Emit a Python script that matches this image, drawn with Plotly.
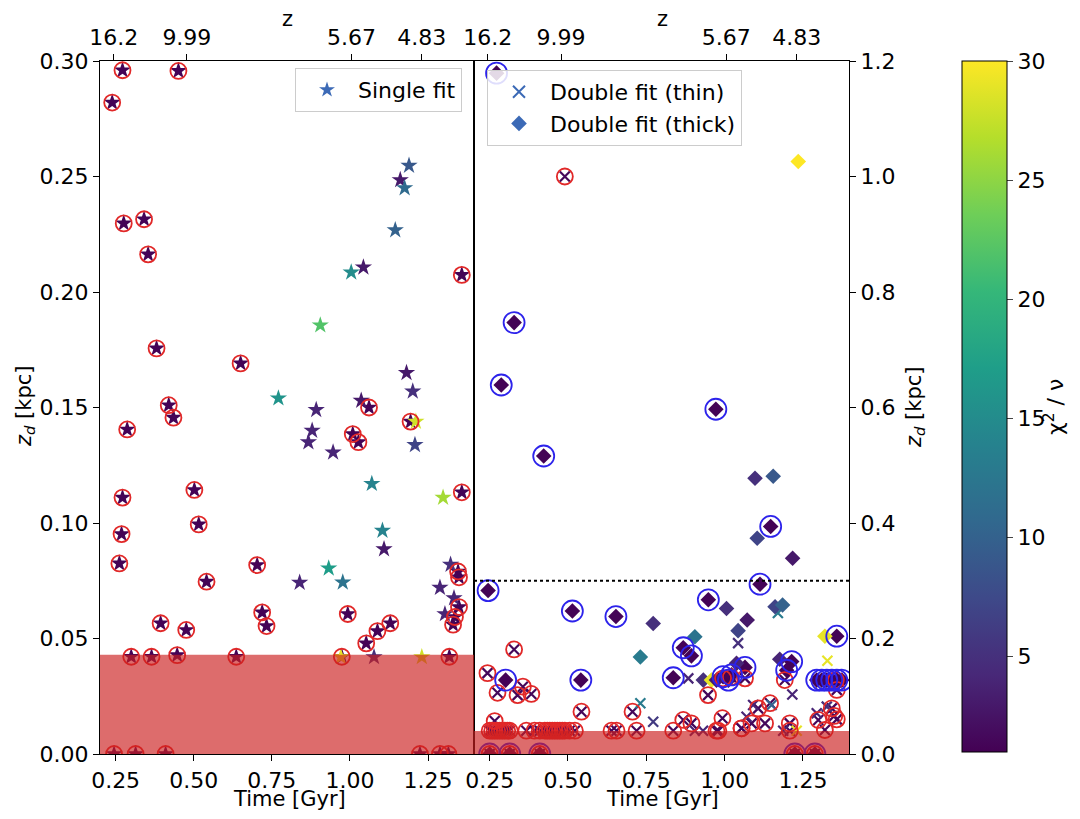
import plotly.graph_objects as go
from plotly.colors import sample_colorscale

# ---------------- data ----------------
# Single fit (left panel): time [Gyr], z_d [kpc], chi2/nu, circled flag
single_t = [0.239, 0.272, 0.451, 0.276, 0.341, 0.354, 0.381, 0.650, 0.420, 0.435,
            0.287, 1.061, 1.009, 1.027, 1.194, 1.358, 0.272, 0.502, 0.516, 0.269,
            0.262, 0.703, 0.541, 1.358, 0.394, 0.476, 0.719, 0.733, 0.993, 1.052,
            1.088, 1.129, 0.300, 0.365, 0.447, 0.636, 0.974, 1.318, 1.346, 1.349,
            1.349, 1.336, 1.330, 0.245, 0.314, 0.410, 1.224, 1.288, 1.315,
            1.189, 1.161, 1.175, 1.145, 1.004, 1.043, 0.905, 0.771, 1.181, 1.201,
            0.892, 1.036, 0.879, 0.867, 0.946, 1.211, 1.208, 1.070, 1.298, 1.104,
            1.109, 0.932, 0.839, 0.977, 1.322, 1.288, 1.333, 1.304, 1.077, 1.230, 0.971]
single_zd = [0.282, 0.296, 0.2957, 0.2297, 0.2315, 0.2163, 0.1756, 0.1691, 0.151, 0.1456,
             0.1405, 0.150, 0.1385, 0.135, 0.1439, 0.2074, 0.111, 0.1143, 0.0994, 0.0952,
             0.0825, 0.0818, 0.0746, 0.1133, 0.0566, 0.0537, 0.0613, 0.0554, 0.0606, 0.0479,
             0.0532, 0.0566, 0.0421, 0.0421, 0.0428, 0.0421, 0.0421, 0.0421, 0.079, 0.0765,
             0.0636, 0.0593, 0.056, 0.0, 0.0, 0.0, 0.0, 0.0, 0.0,
             0.2547, 0.2485, 0.245, 0.2268, 0.2085, 0.2107, 0.1856, 0.154, 0.165, 0.157,
             0.149, 0.153, 0.140, 0.135, 0.1306, 0.1439, 0.1338, 0.117, 0.111, 0.0967,
             0.0887, 0.0804, 0.0742, 0.0743, 0.082, 0.072, 0.0675, 0.0606, 0.042, 0.042, 0.042]
single_chi = [1.2] * 49 + [9, 3, 11, 10, 15, 3, 22, 16, 3, 5,
                           4, 3, 4, 4, 4, 28, 7, 14, 26, 14,
                           3, 17, 4, 12, 5, 4, 4, 4, 5, 28, 29]
single_flag = [1] * 49 + [0] * 31

# Double fit, thin component (right panel)
thin_t = [0.49, 0.328, 0.243, 0.275, 0.356, 0.339, 0.383, 0.543, 0.706, 0.266,
          0.25, 0.258, 0.266, 0.274, 0.282, 0.29, 0.298, 0.306, 0.314, 0.367,
          0.393, 0.41, 0.426, 0.434, 0.442, 0.45, 0.458, 0.466, 0.474, 0.482,
          0.49, 0.505, 0.522, 0.639, 0.655, 0.719, 0.836, 0.974, 0.98, 1.054,
          1.208, 1.32, 0.947, 1.107, 1.145, 0.868, 0.894, 0.993, 1.054, 1.086,
          1.129, 1.208, 1.342, 1.299, 1.35, 1.358, 1.065, 1.192, 1.358, 0.995,
          1.02, 1.355, 0.25, 0.314, 0.41, 1.224, 1.288,
          1.043, 0.884, 0.731, 0.772, 1.216, 1.328, 1.17, 1.091, 1.07, 1.294,
          1.326, 0.905, 0.931, 1.187, 1.23, 1.15, 1.36]
thin_zd = [1.0, 0.181, 0.140, 0.106, 0.1166, 0.102, 0.104, 0.0733, 0.0733, 0.057,
           0.0404, 0.0404, 0.0404, 0.0404, 0.0404, 0.0404, 0.0404, 0.0404, 0.0404, 0.0404,
           0.0404, 0.0404, 0.0404, 0.0404, 0.0404, 0.0404, 0.0404, 0.0404, 0.0404, 0.0404,
           0.0404, 0.0404, 0.0404, 0.0404, 0.0404, 0.0404, 0.0404, 0.0404, 0.0404, 0.0445,
           0.0404, 0.0416, 0.102, 0.079, 0.088, 0.059, 0.053, 0.062, 0.0445, 0.053,
           0.053, 0.053, 0.079, 0.059, 0.066, 0.060, 0.131, 0.128, 0.111, 0.131,
           0.133, 0.128, 0.0, 0.0, 0.0, 0.0, 0.0,
           0.192, 0.131, 0.0878, 0.056, 0.103, 0.1616, 0.244, 0.085, 0.0646, 0.0705,
           0.082, 0.0404, 0.0404, 0.0404, 0.0404, 0.085, 0.128]
thin_chi = [1.5] * 67 + [5, 4, 13, 6, 4, 29, 13, 4, 4, 4, 5, 4, 4, 4, 29, 10, 4]
thin_flag = [1] * 67 + [0] * 17

# Double fit, thick component (right panel)
thick_t = [0.272, 0.328, 0.287, 0.972, 0.4225, 1.147, 1.113, 0.245, 0.514, 0.653,
           0.948, 1.358, 0.868, 0.894, 1.214, 1.198, 1.065, 0.836, 0.301, 0.541,
           0.995, 1.022, 1.012, 1.294, 1.31, 1.326, 1.342, 1.358, 1.374,
           0.25, 0.314, 0.41, 1.224, 1.288,
           1.235, 1.097, 1.155, 1.104, 1.217, 1.006, 0.772, 1.161, 1.185, 1.072,
           1.043, 0.905, 0.731, 1.32, 1.176, 1.038, 0.932, 0.958, 0.974]
thick_zd = [1.179, 0.747, 0.639, 0.597, 0.516, 0.394, 0.294, 0.283, 0.2476, 0.238,
            0.267, 0.204, 0.184, 0.170, 0.16, 0.145, 0.150, 0.132, 0.128, 0.128,
            0.134, 0.137, 0.128, 0.128, 0.128, 0.128, 0.128, 0.128, 0.128,
            0.0, 0.0, 0.0, 0.0, 0.0,
            1.026, 0.4775, 0.481, 0.3735, 0.339, 0.252, 0.226, 0.255, 0.258, 0.232,
            0.2136, 0.203, 0.168, 0.204, 0.164, 0.157, 0.128, 0.128, 0.128]
thick_chi = [1.2] * 34 + [30, 5, 9, 7, 3, 5, 5, 7, 10, 3, 7, 12, 13, 29, 4, 4, 5, 29, 3]
thick_flag = [1] * 34 + [0] * 19

# Axis ticks
time_ticks = [0.25, 0.50, 0.75, 1.00, 1.25]
z_tick_times = [0.244, 0.478, 1.005, 1.230]
z_tick_labels = ["16.2", "9.99", "5.67", "4.83"]
left_y_ticks = [0.0, 0.05, 0.10, 0.15, 0.20, 0.25, 0.30]
right_y_ticks = [0.0, 0.2, 0.4, 0.6, 0.8, 1.0, 1.2]
cbar_ticks = [5, 10, 15, 20, 25, 30]
chi_min, chi_max = 1.0, 30.0
left_limit = 0.043     # shaded region, left panel
right_limit = 0.040    # shaded region, right panel
thick_cut = 0.30       # dotted line, right panel

# ---------------- figure ----------------
OFF = 8                 # page body margin
W, H = 1080 - 2 * OFF, 819 - 2 * OFF
FONT = "DejaVu Sans"
FS = 22
RED = "rgb(225,40,40)"
BLUE = "rgb(45,35,235)"
LEG = "rgb(60,106,182)"


def px(xp):
    return (xp - OFF) / W


def py(yp):
    return 1 - (yp - OFF) / H


def viridis(vals):
    return sample_colorscale("Viridis", [(v - chi_min) / (chi_max - chi_min) for v in vals])


def pick(arr, flags):
    return [a for a, f in zip(arr, flags) if f]


fig = go.Figure()

# left panel stars
fig.add_trace(go.Scatter(
    x=single_t, y=single_zd, mode="markers", xaxis="x", yaxis="y", showlegend=False,
    marker=dict(symbol="star", size=13, color=single_chi, coloraxis="coloraxis",
                line=dict(width=0))))
fig.add_trace(go.Scatter(
    x=pick(single_t, single_flag), y=pick(single_zd, single_flag), mode="markers",
    xaxis="x", yaxis="y", showlegend=False,
    marker=dict(symbol="circle-open", size=16, color=RED, line=dict(width=1.8))))

# right panel thin (x)
fig.add_trace(go.Scatter(
    x=thin_t, y=thin_zd, mode="markers", xaxis="x2", yaxis="y2", showlegend=False,
    marker=dict(symbol="x-thin", size=10, line=dict(width=2.2, color=viridis(thin_chi)))))
# right panel thick (diamond)
fig.add_trace(go.Scatter(
    x=thick_t, y=thick_zd, mode="markers", xaxis="x2", yaxis="y2", showlegend=False,
    marker=dict(symbol="diamond", size=12, color=thick_chi, coloraxis="coloraxis",
                line=dict(width=0))))
fig.add_trace(go.Scatter(
    x=pick(thin_t, thin_flag), y=pick(thin_zd, thin_flag), mode="markers",
    xaxis="x2", yaxis="y2", showlegend=False,
    marker=dict(symbol="circle-open", size=16, color=RED, line=dict(width=1.8))))
fig.add_trace(go.Scatter(
    x=pick(thick_t, thick_flag), y=pick(thick_zd, thick_flag), mode="markers",
    xaxis="x2", yaxis="y2", showlegend=False,
    marker=dict(symbol="circle-open", size=21, color=BLUE, line=dict(width=1.8))))

# helper traces so the top axes render
fig.add_trace(go.Scatter(x=[None], y=[None], xaxis="x3", yaxis="y", showlegend=False, hoverinfo="skip"))
fig.add_trace(go.Scatter(x=[None], y=[None], xaxis="x4", yaxis="y2", showlegend=False, hoverinfo="skip"))

# legend entries
fig.add_trace(go.Scatter(x=[None], y=[None], mode="markers", name="Single fit", legend="legend",
                         marker=dict(symbol="star", size=11, color=LEG)))
fig.add_trace(go.Scatter(x=[None], y=[None], mode="markers", name="Double fit (thin)", legend="legend2",
                         marker=dict(symbol="x-thin", size=10, line=dict(width=2.2, color=LEG))))
fig.add_trace(go.Scatter(x=[None], y=[None], mode="markers", name="Double fit (thick)", legend="legend2",
                         marker=dict(symbol="diamond", size=12, color=LEG)))

xL = [px(100), px(474)]
xR = [px(474), px(849)]
yD = [py(754), py(61)]
xrange_ = [0.200, 1.397]

axis_common = dict(showgrid=False, zeroline=False, showline=True, linecolor="black", linewidth=1.3,
                   ticks="outside", ticklen=6, tickwidth=1.3, tickcolor="black",
                   tickfont=dict(family=FONT, size=FS, color="black"), automargin=False)

legend_common = dict(bgcolor="rgba(255,255,255,0.85)", bordercolor="#cccccc", borderwidth=1,
                     font=dict(family=FONT, size=FS, color="black"), itemsizing="constant",
                     itemwidth=52)


def label(text, x, y, angle=0, size=FS):
    return dict(text=text, xref="paper", yref="paper", x=px(x), y=py(y),
                xanchor="center", yanchor="middle", textangle=angle, showarrow=False,
                font=dict(family=FONT, size=size, color="black"))


fig.update_layout(
    width=W, height=H, margin=dict(l=0, r=0, t=0, b=0),
    paper_bgcolor="white", plot_bgcolor="white",
    font=dict(family=FONT, size=FS, color="black"),
    xaxis=dict(domain=xL, range=xrange_, anchor="y", mirror=True,
               tickvals=time_ticks, ticktext=[f"{v:.2f}" for v in time_ticks], **axis_common),
    yaxis=dict(domain=yD, range=[0, 0.3], anchor="x", mirror=True,
               tickvals=left_y_ticks, ticktext=[f"{v:.2f}" for v in left_y_ticks], **axis_common),
    xaxis2=dict(domain=xR, range=xrange_, anchor="y2", mirror=True,
                tickvals=time_ticks, ticktext=[f"{v:.2f}" for v in time_ticks], **axis_common),
    yaxis2=dict(domain=yD, range=[0, 1.2], anchor="x2", side="right", mirror=True,
                tickvals=right_y_ticks, ticktext=[f"{v:.1f}" for v in right_y_ticks], **axis_common),
    xaxis3=dict(overlaying="x", side="top", anchor="y", range=xrange_,
                tickvals=z_tick_times, ticktext=z_tick_labels, **axis_common),
    xaxis4=dict(overlaying="x2", side="top", anchor="y2", range=xrange_,
                tickvals=z_tick_times, ticktext=z_tick_labels, **axis_common),
    coloraxis=dict(colorscale="Viridis", cmin=chi_min, cmax=chi_max,
                   colorbar=dict(x=px(962), xanchor="left", xpad=0, ypad=0,
                                 y=py(61), yanchor="top", len=(752 - 61) / H, lenmode="fraction",
                                 thickness=45, thicknessmode="pixels",
                                 outlinewidth=1, outlinecolor="black",
                                 tickvals=cbar_ticks, ticks="outside", ticklen=6, tickwidth=1.3,
                                 tickfont=dict(family=FONT, size=FS, color="black"))),
    annotations=[
        label("Time [Gyr]", 289, 799, size=21),
        label("Time [Gyr]", 662, 799, size=21),
        label("z", 287, 19, size=21),
        label("z", 662, 19, size=21),
        label("<i>z<sub>d</sub></i> [kpc]", 25, 407, -90, size=21),
        label("<i>z<sub>d</sub></i> [kpc]", 915, 407, -90, size=21),
        label("χ<sup>2</sup> / ν", 1054, 407, -90),
    ],
    legend=dict(x=px(462), xanchor="right", y=py(68), yanchor="top", **legend_common),
    legend2=dict(x=px(487), xanchor="left", y=py(70), yanchor="top", **legend_common),
    shapes=[
        dict(type="rect", xref="x domain", yref="y", x0=0, x1=1, y0=0, y1=left_limit,
             fillcolor="rgba(204,32,32,0.66)", line=dict(width=0), layer="above"),
        dict(type="rect", xref="x2 domain", yref="y2", x0=0, x1=1, y0=0, y1=right_limit,
             fillcolor="rgba(204,32,32,0.66)", line=dict(width=0), layer="above"),
        dict(type="line", xref="x2 domain", yref="y2", x0=0, x1=1, y0=thick_cut, y1=thick_cut,
             line=dict(color="black", width=2, dash="dot"), layer="above"),
    ],
)

fig.write_html("out.html")
